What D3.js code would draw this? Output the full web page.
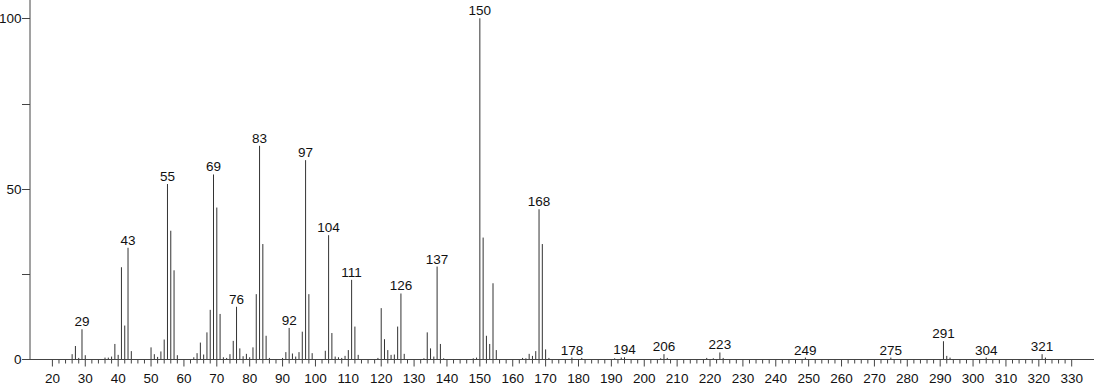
<!DOCTYPE html>
<html>
<head>
<meta charset="utf-8">
<script src="https://cdn.jsdelivr.net/npm/d3@7"></script>
<style>
html, body { margin: 0; padding: 0; background: #fff; }
svg { display: block; font-family: "Liberation Sans", Arial, Helvetica, sans-serif; }
</style>
</head>
<body>
<svg id="chart" width="1094" height="384"></svg>
<script>
// m/z values and relative intensities
const mz = [26,27,28,29,30,36,37,38,39,40,41,42,43,44,50,51,52,53,54,55,56,57,58,
  63,64,65,66,67,68,69,70,71,72,73,74,75,76,77,78,79,80,81,82,83,84,85,86,
  90,91,92,93,94,95,96,97,98,99,103,104,105,106,107,108,109,110,111,112,113,
  119,120,121,122,123,124,125,126,127,133,134,135,136,137,138,139,
  148,149,150,151,152,153,154,155,163,164,165,166,167,168,169,170,171,
  178,181,191,193,194,205,206,207,219,221,223,224,249,275,291,292,293,304,321,322];
const intensity = [1.5,3.9,0.4,8.8,1.2,0.5,0.5,0.8,4.5,1.3,27,9.9,32.7,2.4,3.5,1.5,0.7,2.3,5.8,51.4,37.7,26.1,1.2,
  0.6,1.8,4.9,1.4,7.9,14.5,54.2,44.5,13.3,0.6,0.4,1.5,5.4,15.4,3.2,0.9,1.6,0.6,3.5,19.1,62.6,33.8,6.9,0.4,
  0.4,2.1,9.2,1.7,0.8,2.1,8.1,58.4,19.1,1.8,2.5,36.4,7.7,0.8,0.6,0.4,1.0,2.7,23.3,9.6,1.3,
  0.4,15,5.9,2.7,1.3,1.4,9.6,19.3,1.6,0.3,7.9,3.2,0.8,27.2,4.5,0.3,
  0.3,0.5,100,35.7,6.9,4.5,22.3,2.7,0.4,0.3,1.6,1.0,2.4,44,33.8,2.9,0.4,
  0.5,0.4,0.3,0.5,0.6,0.3,1.5,0.4,0.4,0.3,2.0,0.4,0.5,0.5,5.3,1.0,0.5,0.5,1.5,0.5];
const labeledPeaks = [29,43,55,69,76,83,92,97,104,111,126,137,150,168,178,194,206,223,249,275,291,304,321];
const yTickValues = [0,50,100];
const xMajorTicks = d3.range(20, 331, 10);
const xMinorTicks = d3.range(20, 331, 2);

const svg = d3.select("#chart");
const x = d3.scaleLinear().domain([20, 330]).range([52.4, 1071.7]);
const y = d3.scaleLinear().domain([0, 100]).range([359.3, 18.3]);
const axisColor = "#444";

const peaks = mz.map((m, i) => ({ mz: m, v: intensity[i] }));

// peaks
svg.append("g").selectAll("line").data(peaks).join("line")
  .attr("x1", d => x(d.mz)).attr("x2", d => x(d.mz))
  .attr("y1", y(0)).attr("y2", d => y(d.v))
  .attr("stroke", "#333").attr("stroke-width", 1);

// peak labels
const lab = peaks.filter(d => labeledPeaks.includes(d.mz));
svg.append("g").selectAll("text").data(lab).join("text")
  .attr("x", d => x(d.mz)).attr("y", d => y(d.v) - 3)
  .attr("text-anchor", "middle")
  .attr("font-size", 13.5).attr("fill", "#111")
  .text(d => d.mz);

// y axis
const yAxisX = 30;
svg.append("line").attr("x1", yAxisX).attr("x2", yAxisX).attr("y1", 0).attr("y2", y(0))
  .attr("stroke", axisColor);
svg.append("g").selectAll("line").data([0,25,50,75,100]).join("line")
  .attr("x1", yAxisX - 8).attr("x2", yAxisX)
  .attr("y1", d => Math.round(y(d)) + 0.5).attr("y2", d => Math.round(y(d)) + 0.5)
  .attr("stroke", axisColor);
svg.append("g").selectAll("text").data(yTickValues).join("text")
  .attr("x", yAxisX - 8.5).attr("y", d => y(d)).attr("dy", "0.35em")
  .attr("text-anchor", "end").attr("font-size", 13.5).attr("fill", "#111")
  .text(d => d);

// x axis
const base = Math.round(y(0)) + 0.5;
svg.append("line").attr("x1", yAxisX).attr("x2", 1094).attr("y1", base).attr("y2", base)
  .attr("stroke", axisColor);
svg.append("g").selectAll("line").data(xMinorTicks).join("line")
  .attr("x1", d => x(d)).attr("x2", d => x(d))
  .attr("y1", base).attr("y2", d => base + (d % 10 === 0 ? 7 : 4))
  .attr("stroke", axisColor);
svg.append("g").selectAll("text").data(xMajorTicks).join("text")
  .attr("x", d => x(d)).attr("y", 382.5)
  .attr("text-anchor", "middle").attr("font-size", 13.5).attr("fill", "#111")
  .text(d => d);
</script>
</body>
</html>
